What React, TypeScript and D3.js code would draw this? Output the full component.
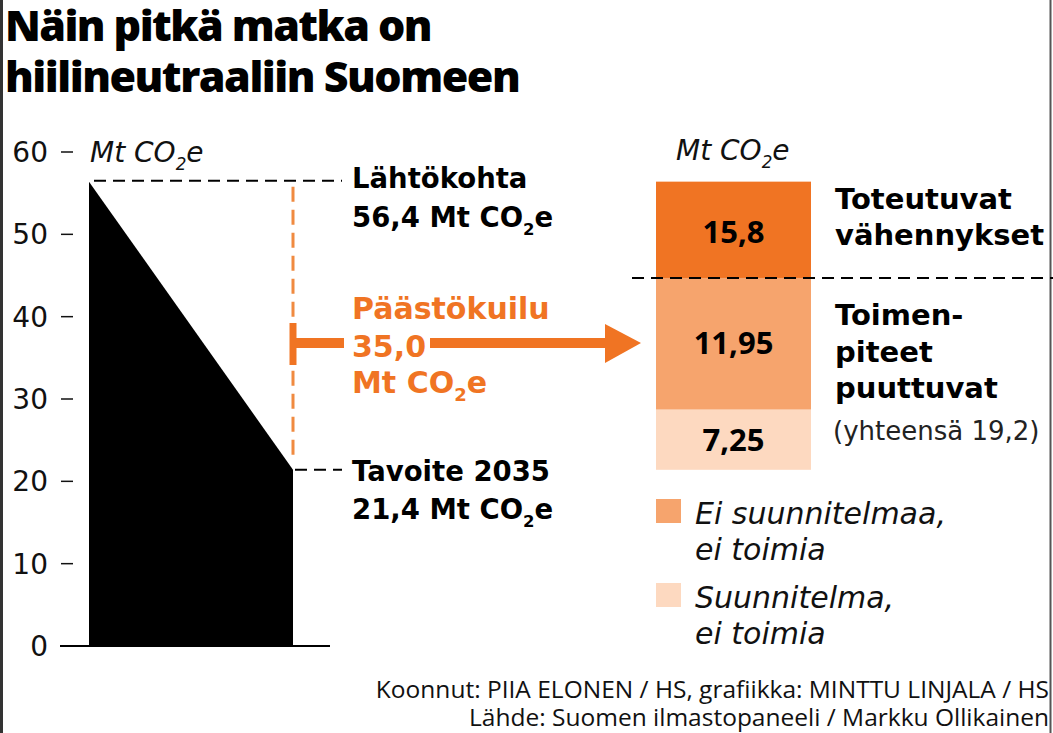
import React from "react";
import * as d3 from "d3";

// ---- data ----
const yTicks = [0, 10, 20, 30, 40, 50, 60];
const pathPoints = ["Lähtökohta", "Tavoite 2035"];
const pathValues = [56.4, 21.4];
const gapValue = "35,0";
// stacked bar on the right (labels as printed, spans as drawn in the picture)
const segmentLabels = ["15,8", "11,95", "7,25"];
const segmentSpans = [11.7, 16.0, 7.3];
const segmentColors = ["#f07423", "#f6a46d", "#fdd9c0"];
const legendItems = [
  { lines: ["Ei suunnitelmaa,", "ei toimia"], color: "#f6a46d" },
  { lines: ["Suunnitelma,", "ei toimia"], color: "#fdd9c0" },
];

const W = 1053;
const H = 733;
const OPEN = "'Open Sans', 'Noto Sans', sans-serif";
const DJ = "'DejaVu Sans', 'Noto Sans', sans-serif";
const ORANGE = "#f07423";

function Co2Text({ x, y, size, weight = 400, fill = "#111", italic = false, prefix = "Mt CO", family = DJ }: any) {
  return (
    <text x={x} y={y} fontSize={size} fontWeight={weight} fill={fill} fontStyle={italic ? "italic" : "normal"} fontFamily={family}>
      {prefix}
      <tspan dy={size * 0.28} fontSize={size * 0.6}>2</tspan>
      <tspan dy={-size * 0.28}>e</tspan>
    </text>
  );
}

export default function App() {
  const y = d3.scaleLinear().domain([0, 60]).range([646, 152]);
  const x = d3.scalePoint<string>().domain(pathPoints).range([89, 293]);
  const area = d3
    .area<number>()
    .x((_, i) => x(pathPoints[i])!)
    .y0(y(0))
    .y1((d) => d);
  const areaPath = area(pathValues.map((v) => y(v)))!;

  const barX0 = 656;
  const barX1 = 811;
  let acc = pathValues[0];
  const segs = segmentSpans.map((s, i) => {
    const hi = acc;
    const lo = acc - s;
    acc = lo;
    return { hi, lo, label: segmentLabels[i], color: segmentColors[i] };
  });
  const labelBaselines = [243, 354, 451];

  const xS = x(pathPoints[1])!;
  const yTop = y(pathValues[0]);
  const yBot = y(pathValues[1]);
  const arrowY = 343;
  const fmt = (v: number) => String(v).replace(".", ",");

  return (
    <svg width={W} height={H} style={{ position: "absolute", left: 0, top: 0, background: "#fff" }}>
      <rect x={0} y={0} width={W} height={H} fill="#fff" />
      {/* frame lines */}
      <line x1={1.5} y1={0} x2={1.5} y2={H} stroke="#333" strokeWidth={3} />
      <line x1={1050.5} y1={0} x2={1050.5} y2={H} stroke="#555" strokeWidth={2} />

      {/* title */}
      <text x={5} y={41} fontFamily={OPEN} fontWeight={800} fontSize={43} letterSpacing={-1.6} fill="#000">
        Näin pitkä matka on
      </text>
      <text x={5} y={92} fontFamily={OPEN} fontWeight={800} fontSize={43} letterSpacing={-1.5} fill="#000">
        hiilineutraaliin Suomeen
      </text>

      {/* y axis */}
      {yTicks.map((t) => (
        <g key={t}>
          <text x={48} y={y(t) + 10} textAnchor="end" fontFamily={DJ} fontSize={28} fill="#111">
            {t}
          </text>
          {t !== 0 && <line x1={61} x2={73} y1={y(t)} y2={y(t)} stroke="#111" strokeWidth={1.5} />}
        </g>
      ))}
      <Co2Text x={90} y={162} size={28} italic />

      {/* area */}
      <path d={areaPath} fill="#000" />
      <line x1={60} x2={330} y1={y(0)} y2={y(0)} stroke="#000" strokeWidth={2} />

      {/* reference dashed lines */}
      <line x1={94} x2={342} y1={yTop - 1} y2={yTop - 1} stroke="#000" strokeWidth={2} strokeDasharray="12 7" />
      <line x1={295} x2={342} y1={yBot} y2={yBot} stroke="#000" strokeWidth={2} strokeDasharray="12 7" />
      <line x1={xS} x2={xS} y1={yTop + 5} y2={yBot - 10} stroke="#f08a40" strokeWidth={3} strokeDasharray="15 8" />

      {/* labels */}
      <text x={352} y={188} fontFamily={DJ} fontWeight={700} fontSize={27.5} fill="#000">
        {pathPoints[0]}
      </text>
      <Co2Text x={352} y={227} size={27.5} weight={700} fill="#000" prefix={`${fmt(pathValues[0])} Mt CO`} />
      <text x={352} y={481} fontFamily={DJ} fontWeight={700} fontSize={27.5} fill="#000">
        {pathPoints[1]}
      </text>
      <Co2Text x={352} y={519} size={27.5} weight={700} fill="#000" prefix={`${fmt(pathValues[1])} Mt CO`} />

      {/* gap bracket and arrow */}
      <line x1={xS} x2={xS} y1={arrowY - 20} y2={arrowY + 22} stroke={ORANGE} strokeWidth={7} />
      <line x1={xS} x2={344} y1={arrowY} y2={arrowY} stroke={ORANGE} strokeWidth={10} />
      <line x1={430} x2={608} y1={arrowY} y2={arrowY} stroke={ORANGE} strokeWidth={10} />
      <path d={`M605,${arrowY - 19} L641,${arrowY} L605,${arrowY + 20} Z`} fill={ORANGE} />
      <text x={352} y={319} fontFamily={DJ} fontWeight={700} fontSize={30} fill={ORANGE}>
        Päästökuilu
      </text>
      <text x={352} y={357} fontFamily={DJ} fontWeight={700} fontSize={30} fill={ORANGE}>
        {gapValue}
      </text>
      <Co2Text x={352} y={393} size={30} weight={700} fill={ORANGE} />

      {/* stacked bar */}
      <Co2Text x={676} y={160} size={28} italic />
      {segs.map((s, i) => (
        <g key={i}>
          <rect x={barX0} width={barX1 - barX0} y={y(s.hi)} height={y(s.lo) - y(s.hi)} fill={s.color} />
          <text
            x={(barX0 + barX1) / 2}
            y={labelBaselines[i]}
            textAnchor="middle"
            fontFamily={OPEN}
            fontWeight={700}
            fontSize={31}
            fill="#000"
          >
            {s.label}
          </text>
        </g>
      ))}
      <line x1={632} x2={W} y1={y(segs[0].lo)} y2={y(segs[0].lo)} stroke="#000" strokeWidth={2} strokeDasharray="12 7" />

      <text x={835} y={209} fontFamily={DJ} fontWeight={700} fontSize={29} fill="#000">Toteutuvat</text>
      <text x={835} y={245} fontFamily={DJ} fontWeight={700} fontSize={29} fill="#000">vähennykset</text>
      <text x={835} y={325} fontFamily={DJ} fontWeight={700} fontSize={29} fill="#000">Toimen-</text>
      <text x={835} y={362} fontFamily={DJ} fontWeight={700} fontSize={29} fill="#000">piteet</text>
      <text x={835} y={398} fontFamily={DJ} fontWeight={700} fontSize={29} fill="#000">puuttuvat</text>
      <text x={833} y={440} fontFamily={DJ} fontWeight={400} fontSize={26} fill="#222">(yhteensä 19,2)</text>

      {/* legend */}
      {legendItems.map((l, i) => (
        <g key={i}>
          <rect x={656} y={499 + i * 84} width={25} height={24} fill={l.color} />
          {l.lines.map((ln, j) => (
            <text key={j} x={695} y={524 + i * 84 + j * 36} fontFamily={DJ} fontStyle="italic" fontSize={30} fill="#111">
              {ln}
            </text>
          ))}
        </g>
      ))}

      {/* footer */}
      <text x={1049} y={698} textAnchor="end" fontFamily={OPEN} fontSize={24.5} fill="#111">
        Koonnut: PIIA ELONEN / HS, grafiikka: MINTTU LINJALA / HS
      </text>
      <text x={1049} y={726} textAnchor="end" fontFamily={OPEN} fontSize={24.5} fill="#111">
        Lähde: Suomen ilmastopaneeli / Markku Ollikainen
      </text>
    </svg>
  );
}
